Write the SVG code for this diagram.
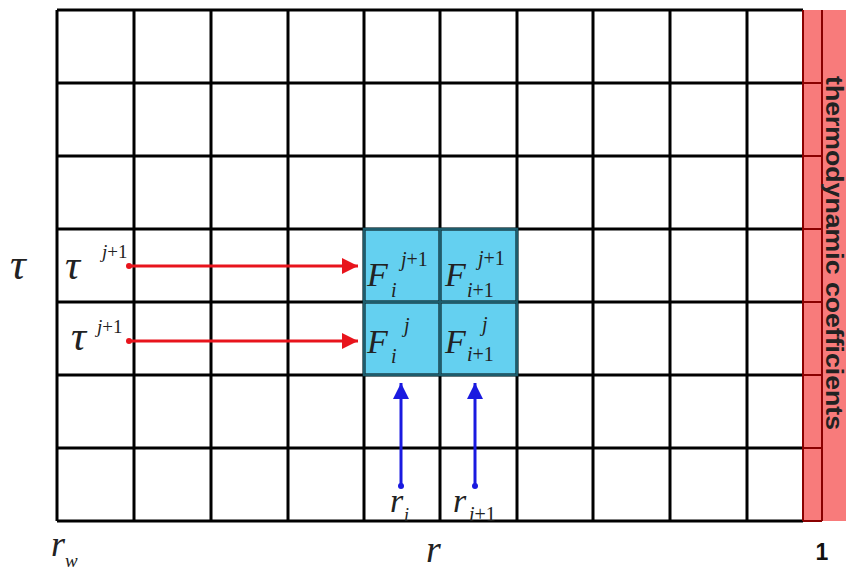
<svg xmlns="http://www.w3.org/2000/svg" width="846" height="572" viewBox="0 0 846 572">
<style>
.g{stroke:#000;stroke-width:3;fill:none}
.bl{stroke:#1d5c6c;stroke-width:2.5;fill:none}
.rd{stroke:#8a0000;stroke-width:2;fill:none}
.m{font-family:"Liberation Serif","Times New Roman",serif;font-style:italic;fill:#222}
.u{font-style:normal}
.ra{stroke:#e8141c;stroke-width:3}
.ba{stroke:#1a1ae0;stroke-width:3}
</style>
<defs>
<marker id="ah" markerUnits="userSpaceOnUse" markerWidth="18" markerHeight="16" refX="16" refY="8" orient="auto"><path d="M0,0 L16,8 L0,16 Z" fill="#e8141c"/></marker>
<marker id="bh" markerUnits="userSpaceOnUse" markerWidth="18" markerHeight="16" refX="16" refY="8" orient="auto"><path d="M0,0 L16,8 L0,16 Z" fill="#1a1ae0"/></marker>
</defs>
<rect width="846" height="572" fill="#fff"/>
<g id="highlight">
<rect x="364" y="229" width="153" height="146" fill="#64d0f0"/>
</g>
<g id="grid">
<path class="g" d="M57,10V521M134,10V521M211,10V521M288,10V521M364,10V521M440,10V521M517,10V521M593,10V521M670,10V521M747,10V521"/>
<path class="g" d="M57,10H803M57,83H803M57,156H803M57,229H803M57,302H803M57,375H803M57,448H803M57,521H803"/>
<path class="bl" d="M364,229H517V375H364ZM440,229V375M364,302H517"/>
</g>
<g id="strip">
<rect x="803" y="10" width="43" height="511" fill="#f87b7b"/>
<path class="rd" d="M803,10V521M822,10V521M803,83H822M803,156H822M803,229H822M803,302H822M803,375H822M803,448H822M803,521H822"/>
<text transform="translate(826,253) rotate(90)" text-anchor="middle" font-family="Liberation Sans, Arial, sans-serif" font-weight="bold" font-size="23" fill="#222" textLength="354" lengthAdjust="spacingAndGlyphs">thermodynamic coefficients</text>
</g>
<g id="axis-labels">
<text class="m" x="10" y="279" font-size="44">τ</text>
<text class="m" x="51" y="556" font-size="36">r</text>
<text class="m" x="65" y="567" font-size="19">w</text>
<text class="m" x="426" y="562" font-size="38">r</text>
<text x="822" y="560" text-anchor="middle" font-family="Liberation Sans, Arial, sans-serif" font-weight="bold" font-size="23" fill="#111">1</text>
</g>
<g id="tau1">
<text class="m" x="65" y="279" font-size="42">τ</text>
<text class="m" x="102" y="258" font-size="19">j<tspan class="u">+1</tspan></text>
</g>
<g id="tau2">
<text class="m" x="71" y="350" font-size="42">τ</text>
<text class="m" x="97" y="333" font-size="19">j<tspan class="u">+1</tspan></text>
</g>
<g id="F-i-j1">
<text class="m" x="367" y="286" font-size="34">F</text>
<text class="m" x="391" y="297" font-size="20">i</text>
<text class="m" x="401" y="266" font-size="20">j<tspan class="u">+1</tspan></text>
</g>
<g id="F-i1-j1">
<text class="m" x="445" y="286" font-size="34">F</text>
<text class="m" x="467" y="297" font-size="20">i<tspan class="u">+1</tspan></text>
<text class="m" x="478" y="265" font-size="20">j<tspan class="u">+1</tspan></text>
</g>
<g id="F-i-j">
<text class="m" x="367" y="353" font-size="34">F</text>
<text class="m" x="391" y="363" font-size="20">i</text>
<text class="m" x="404" y="332" font-size="20">j</text>
</g>
<g id="F-i1-j">
<text class="m" x="445" y="353" font-size="34">F</text>
<text class="m" x="467" y="361" font-size="20">i<tspan class="u">+1</tspan></text>
<text class="m" x="482" y="331" font-size="20">j</text>
</g>
<g id="r-i">
<text class="m" x="390" y="512" font-size="34">r</text>
<text class="m" x="404" y="521" font-size="18">i</text>
</g>
<g id="r-i1">
<text class="m" x="453" y="512" font-size="34">r</text>
<text class="m" x="469" y="521" font-size="20">i<tspan class="u">+1</tspan></text>
</g>
<g id="connectors">
<line class="ra" x1="129" y1="266" x2="358" y2="266" marker-end="url(#ah)"/>
<circle cx="129" cy="266" r="3" fill="#e8141c"/>
<line class="ra" x1="129" y1="341" x2="358" y2="341" marker-end="url(#ah)"/>
<circle cx="129" cy="341" r="3" fill="#e8141c"/>
<line class="ba" x1="401" y1="486" x2="401" y2="383" marker-end="url(#bh)"/>
<circle cx="401" cy="486" r="3" fill="#1a1ae0"/>
<line class="ba" x1="475" y1="486" x2="475" y2="383" marker-end="url(#bh)"/>
<circle cx="475" cy="486" r="3" fill="#1a1ae0"/>
</g>
</svg>
